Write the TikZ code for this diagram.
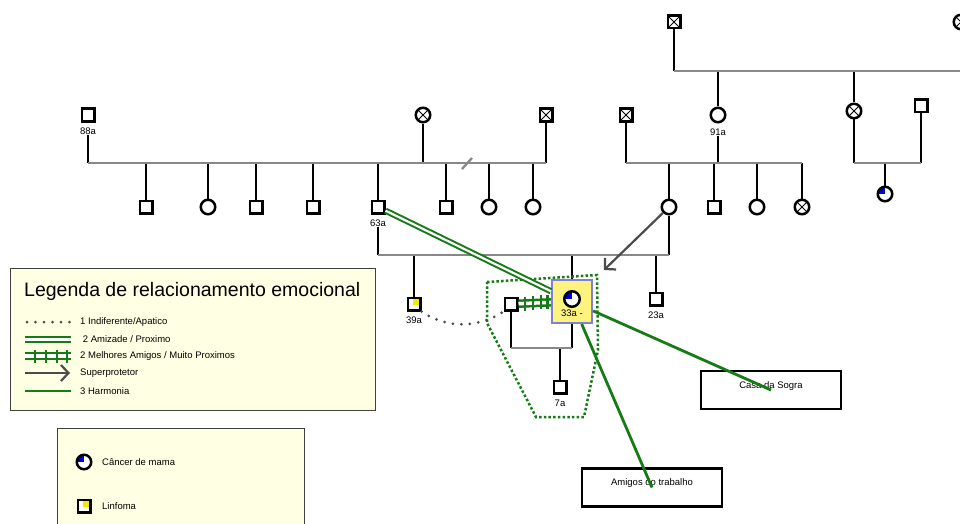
\documentclass[tikz,border=0pt]{standalone}
\usepackage{fontspec}
\setmainfont{Liberation Sans}
\usetikzlibrary{arrows.meta}
\usetikzlibrary{calc}

\definecolor{kingray}{RGB}{136,136,136}
\definecolor{relgreen}{RGB}{22,122,22}
\definecolor{relgray}{RGB}{75,75,75}
\definecolor{legendbg}{RGB}{255,255,227}
\definecolor{idxfill}{RGB}{255,243,128}
\definecolor{idxline}{RGB}{128,128,220}
\definecolor{cancerblue}{RGB}{0,0,210}
\definecolor{lymphyellow}{RGB}{245,235,0}

\tikzset{
  male/.style={rectangle,draw=black,line width=2.5pt,fill=white,minimum size=12.5pt,inner sep=0pt},
  female/.style={circle,draw=black,line width=2.5pt,fill=white,minimum size=14.5pt,inner sep=0pt},
  dead/.style={path picture={\draw[line width=1pt] (path picture bounding box.north west) -- (path picture bounding box.south east) (path picture bounding box.north east) -- (path picture bounding box.south west);}},
  cancer/.style={path picture={\fill[cancerblue] (path picture bounding box.center) -- (path picture bounding box.north) -- (path picture bounding box.north west) -- (path picture bounding box.west) -- cycle;}},
  lymph/.style={path picture={\fill[lymphyellow] (path picture bounding box.north east) rectangle ([xshift=-7.5pt,yshift=-7.5pt]path picture bounding box.north east);}},
  age/.style={font=\fontsize{9.5}{11}\selectfont,inner sep=0pt},
  kin/.style={draw=black,line width=2.5pt},
  sibline/.style={draw=kingray,line width=2.3pt},
  friends/.style={draw=relgreen,double=white,line width=2pt,double distance=2.2pt},
  bestfriends/.style={draw=relgreen,double=white,line width=2.5pt,double distance=3.5pt},
  tick/.style={draw=relgreen,line width=2.5pt},
  harmony/.style={draw=relgreen,line width=2.8pt},
  apathy/.style={draw=relgray,line width=3pt,line cap=round,dash pattern=on 0pt off 8.5pt},
  overprotect/.style={draw=relgray,line width=2.2pt,-{Straight Barb[length=7.5pt,width=16pt]}},
  household/.style={draw=relgreen,line width=2.5pt,dash pattern=on 2.5pt off 2.2pt},
  placebox/.style={draw=black,line width=2.4pt,fill=white,minimum width=140pt,minimum height=38pt,font=\fontsize{9.5}{11}\selectfont,text height=7pt,text depth=11pt},
  idxbox/.style={draw=idxline,line width=2.2pt,fill=idxfill,minimum width=40pt,minimum height=43pt,inner sep=0pt},
  legendbox/.style={draw=black!75,line width=0.8pt,fill=legendbg},
  legendtext/.style={font=\fontsize{9.5}{11}\selectfont,anchor=west,inner sep=0pt},
}

\begin{document}
\begin{tikzpicture}[x=1pt,y=-1pt]
\useasboundingbox (0,0) rectangle (960,524);

% legend of the relationship lines
\draw[legendbox] (10,268) rectangle (375,410);
\node[anchor=west,inner sep=0pt,font=\fontsize{19.5}{22}\selectfont] (legtitle) at (24,291) {Legenda de relacionamento emocional};
\draw[apathy] (27,322) -- (70,322);
\node[legendtext] (leg1) at (80,322) {1 Indiferente/Apatico};
\draw[friends] (25,339.5) -- (71,339.5);
\node[legendtext] (leg2) at (80,339.5) {\ 2 Amizade / Proximo};
\draw[bestfriends] (25,356) -- (71,356);
\foreach \tx in {35,46,57,67} \draw[tick] (\tx,349.5) -- (\tx,362.5);
\node[legendtext] (leg3) at (80,356) {2 Melhores Amigos / Muito Proximos};
\draw[overprotect] (25,373) -- (70,373);
\node[legendtext] (leg4) at (80,373.5) {Superprotetor};
\draw[harmony] (25,391) -- (71,391);
\node[legendtext] (leg5) at (80,391) {3 Harmonia};

% legend of the illnesses
\draw[legendbox] (57,540) -- (57,428) -- (304,428) -- (304,540);
\node[female,cancer] (legca) at (84,462) {};
\node[legendtext] (legcatxt) at (102,462) {Câncer de mama};
\node[male,lymph] (legly) at (84,506) {};
\node[legendtext] (leglytxt) at (102,506) {Linfoma};

% grandparents on the mother's side
\node[male,dead] (gpa) at (674,22) {};
\node[female,dead] (gma) at (961,22) {};
\coordinate (mgp) at (0,71);
\node[female,label={[age,name=l91,label distance=5pt]below:91a}] (p91) at (718,115) {};
\node[female,dead] (paunt) at (854,111) {};
\node[male] (puncle) at (921,106) {};
\node[female,cancer] (pcousin) at (885,194) {};
\coordinate (maunt) at (0,163);
\draw[kin] (gpa) -- (gpa |- mgp);
\draw[kin] (gma) -- (gma |- mgp);
\draw[kin] (p91) -- (p91 |- mgp);
\draw[kin] (paunt) -- (paunt |- mgp);
\draw[sibline] (gpa |- mgp) -- (960,71);
\draw[kin] (paunt) -- (paunt |- maunt);
\draw[kin] (puncle) -- (puncle |- maunt);
\draw[kin] (pcousin) -- (pcousin |- maunt);
\draw[sibline] (paunt |- maunt) -- (puncle |- maunt);

% father's family
\coordinate (mleft) at (0,163);
\node[male,label={[age,name=l88,label distance=5pt]below:88a}] (p88) at (88,115) {};
\node[female,dead] (pgm) at (423,115) {};
\node[male,dead] (pgf) at (546,115) {};
\node[male] (s1) at (146,207) {};
\node[female] (s2) at (208,207) {};
\node[male] (s3) at (256,207) {};
\node[male] (s4) at (313,207) {};
\node[male,label={[age,name=l63,label distance=5pt]below:63a}] (p63) at (378,207) {};
\node[male] (s6) at (446,207) {};
\node[female] (s7) at (489,207) {};
\node[female] (s8) at (533,207) {};
\draw[kin] (l88) -- (l88 |- mleft);
\draw[kin] (pgm) -- (pgm |- mleft);
\draw[kin] (pgf) -- (pgf |- mleft);
\foreach \kid in {s1,s2,s3,s4,p63,s6,s7,s8}
  \draw[kin] (\kid) -- (\kid |- mleft);
\draw[sibline] (p88 |- mleft) -- (pgf |- mleft);
\draw[sibline] (462,169) -- (472,158);

% mother's family
\coordinate (mright) at (0,163);
\node[male,dead] (pgr) at (626,115) {};
\node[female] (pJ) at (669,207) {};
\node[male] (t2) at (714,207) {};
\node[female] (t3) at (757,207) {};
\node[female,dead] (t4) at (802,207) {};
\draw[kin] (pgr) -- (pgr |- mright);
\draw[kin] (l91) -- (l91 |- mright);
\foreach \kid in {pJ,t2,t3,t4}
  \draw[kin] (\kid) -- (\kid |- mright);
\draw[sibline] (pgr |- mright) -- (t4 |- mright);

% parents and their children
\coordinate (mpar) at (0,255);
\node[male,lymph,label={[age,name=l39,label distance=5pt]below:39a}] (p39) at (414,304) {};
\node[idxbox] (idx) at (572,301.5) {};
\node[female,cancer,minimum size=15.5pt,label={[age,name=l33,label distance=1.5pt]below:33a -}] (p33) at (572,299) {};
\node[male,label={[age,name=l23,label distance=5pt]below:23a}] (p23) at (656,299) {};
\draw[kin] (l63) -- (l63 |- mpar);
\draw[kin] (pJ) -- (pJ |- mpar);
\draw[kin] (p39) -- (p39 |- mpar);
\draw[kin] (idx) -- (idx |- mpar);
\draw[kin] (p23) -- (p23 |- mpar);
\draw[sibline] (p63 |- mpar) -- (pJ |- mpar);

% household of 33a
\draw[household] (487,282) -- (597,275) -- (598,350) -- (584,417) -- (536,417) -- (487,323) -- cycle;
\coordinate (mown) at (0,348);
\node[male] (pK) at (511,304) {};
\node[male,label={[age,name=l7,label distance=5pt]below:7a}] (p7) at (560,387) {};
\draw[kin] (pK) -- (pK |- mown);
\draw[kin] (idx) -- (idx |- mown);
\draw[kin] (p7) -- (p7 |- mown);
\draw[sibline] (pK |- mown) -- (idx |- mown);

% places
\node[placebox] (casa) at (771,390) {Casa da Sogra};
\node[placebox] (amigos) at (652,487.5) {Amigos do trabalho};

% emotional ties
\coordinate (sptip) at (604,270);
\draw[overprotect] (pJ) -- (sptip);
\draw[friends] (p63) -- (idx);
\draw[bestfriends] (pK) -- (idx);
\foreach \t in {0.2,0.45,0.69,0.9}
  \draw[tick] ($(pK.east)!\t!(idx.west)+(0,-7)$) -- ++(0,14);
\draw[apathy] (p39.south east) .. controls (450,331) and (482,326) .. (pK.south west);
\draw[harmony] (idx) -- (casa.center);
\draw[harmony] (idx) -- (amigos.center);

\end{tikzpicture}
\end{document}
